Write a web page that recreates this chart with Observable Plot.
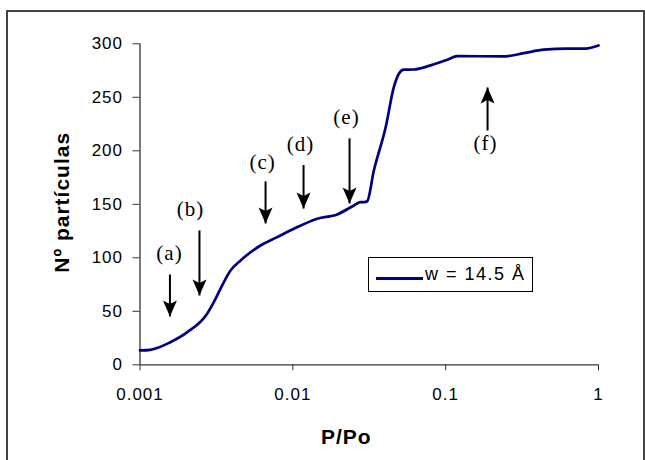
<!DOCTYPE html>
<html>
<head>
<meta charset="utf-8">
<script src="https://cdn.jsdelivr.net/npm/d3@7"></script>
<script src="https://cdn.jsdelivr.net/npm/@observablehq/plot@0.6"></script>
<style>
  html, body { margin: 0; padding: 0; background: #fff; overflow: hidden; }
  #wrap { position: relative; width: 645px; height: 460px; overflow: hidden; }
  #frame { position: absolute; left: 6px; top: 10px; width: 639px; height: 480px; border: 2px solid #444; box-sizing: border-box; }
  #chart { position: absolute; left: 0; top: 0; }
  #chart svg text { letter-spacing: 1px; }
  #legend { position: absolute; left: 368px; top: 257px; width: 165px; height: 35px; border: 1px solid #000; box-sizing: border-box; background: #fff;
            font-family: "Liberation Sans", Arial, sans-serif; font-size: 18px; letter-spacing: 1.5px; }
  #legend .sw { position: absolute; left: 7px; top: 19px; width: 47px; height: 3px; background: #000080; }
  #legend .lt { position: absolute; left: 56px; top: 6px; line-height: 20px; white-space: nowrap; }
</style>
</head>
<body>
<div id="wrap">
  <div id="frame"></div>
  <div id="chart"></div>
  <div id="legend"><div class="sw"></div><div class="lt">w = 14.5 Å</div></div>
</div>
<script>
// Curve data (P/Po, Nº partículas)
const pressure = [0.001, 0.00117, 0.00158, 0.00204, 0.00275, 0.00304, 0.00336, 0.00391, 0.00455, 0.00615, 0.0079, 0.01016, 0.01445, 0.0195, 0.0251, 0.0277, 0.0295, 0.0307, 0.0339, 0.0405, 0.0458, 0.0494, 0.0532, 0.062, 0.0796, 0.1024, 0.119, 0.24, 0.325, 0.44, 0.625, 0.80, 1.0];
const particles = [13.4, 14, 21.1, 30.5, 47.7, 58.5, 71, 88.2, 97.5, 111.5, 119.3, 127.1, 136.5, 140.5, 148.9, 152, 152, 153, 181.6, 222, 259.5, 272, 275.8, 276, 279.8, 285, 288.5, 288.2, 291.3, 294.5, 295.4, 295.4, 298.5];

// Axis ticks
const xTicks = [0.001, 0.01, 0.1, 1];
const xTickLabels = ["0.001", "0.01", "0.1", "1"];
const yTicks = [0, 50, 100, 150, 200, 250, 300];

// Annotation arrows
const arrowLabels = ["(a)", "(b)", "(c)", "(d)", "(e)", "(f)"];
const arrowX = [0.00157, 0.00245, 0.00663, 0.01175, 0.0235, 0.188];
const arrowFrom = [84.4, 125.6, 171.4, 186.7, 211.6, 219];
const arrowTo = [45.2, 64.8, 132.1, 146, 150.8, 259.2];
const labelX = [0.00156, 0.00214, 0.00634, 0.01123, 0.02245, 0.1824];
const labelY = [104, 145.2, 189, 206, 231.2, 206.8];

const curve = pressure.map((p, i) => ({p, n: particles[i]}));
const arrows = arrowLabels.map((l, i) => ({
  label: l, x: arrowX[i], from: arrowFrom[i], to: arrowTo[i], lx: labelX[i], ly: labelY[i],
  rot: arrowTo[i] < arrowFrom[i] ? 0 : 180
}));

const head = {
  draw(ctx) {
    ctx.moveTo(0, 0);
    ctx.lineTo(-7, -16);
    ctx.lineTo(0, -12.5);
    ctx.lineTo(7, -16);
    ctx.closePath();
  }
};

const chart = Plot.plot({
  width: 645,
  height: 460,
  marginLeft: 139.5,
  marginRight: 47,
  marginTop: 43.3,
  marginBottom: 95.7,
  style: {fontFamily: "'Liberation Sans', Arial, sans-serif", fontSize: "17px", color: "#000", background: "transparent", overflow: "visible"},
  x: {type: "log", domain: [0.001, 1]},
  y: {domain: [0, 300]},
  marks: [
    Plot.axisY({ticks: yTicks, tickSize: 7, tickPadding: 10, label: null, tickFormat: d => String(d), stroke: "#333"}),
    Plot.axisX({ticks: xTicks, tickSize: 6, tickPadding: 17, label: null, tickFormat: d => xTickLabels[xTicks.indexOf(d)], stroke: "#333"}),
    Plot.ruleY([0], {stroke: "#333", strokeWidth: 1.3}),
    Plot.ruleX([0.001], {stroke: "#333", strokeWidth: 1.3}),
    Plot.line(curve, {x: "p", y: "n", stroke: "#000080", strokeWidth: 2.7, curve: "monotone-x"}),
    Plot.link(arrows, {x1: "x", y1: "from", x2: "x", y2: "to", stroke: "#000", strokeWidth: 2}),
    Plot.dot(arrows, {x: "x", y: "to", symbol: head, rotate: "rot", fill: "#000", stroke: "none"}),
    Plot.text(arrows, {x: "lx", y: "ly", text: "label", fontFamily: "'Liberation Serif', 'Times New Roman', serif", fontSize: 21, fill: "#000"}),
    Plot.text(["P/Po"], {frameAnchor: "bottom", textAnchor: "middle", lineAnchor: "middle", dx: -23, dy: 72, fontSize: 21, fontWeight: "bold", fill: "#000"}),
    Plot.text(["Nº partículas"], {frameAnchor: "left", textAnchor: "middle", lineAnchor: "middle", dx: -77.5, dy: -2, rotate: -90, fontSize: 21, fontWeight: "bold", fill: "#000"})
  ]
});
document.getElementById("chart").appendChild(chart);
</script>
</body>
</html>
